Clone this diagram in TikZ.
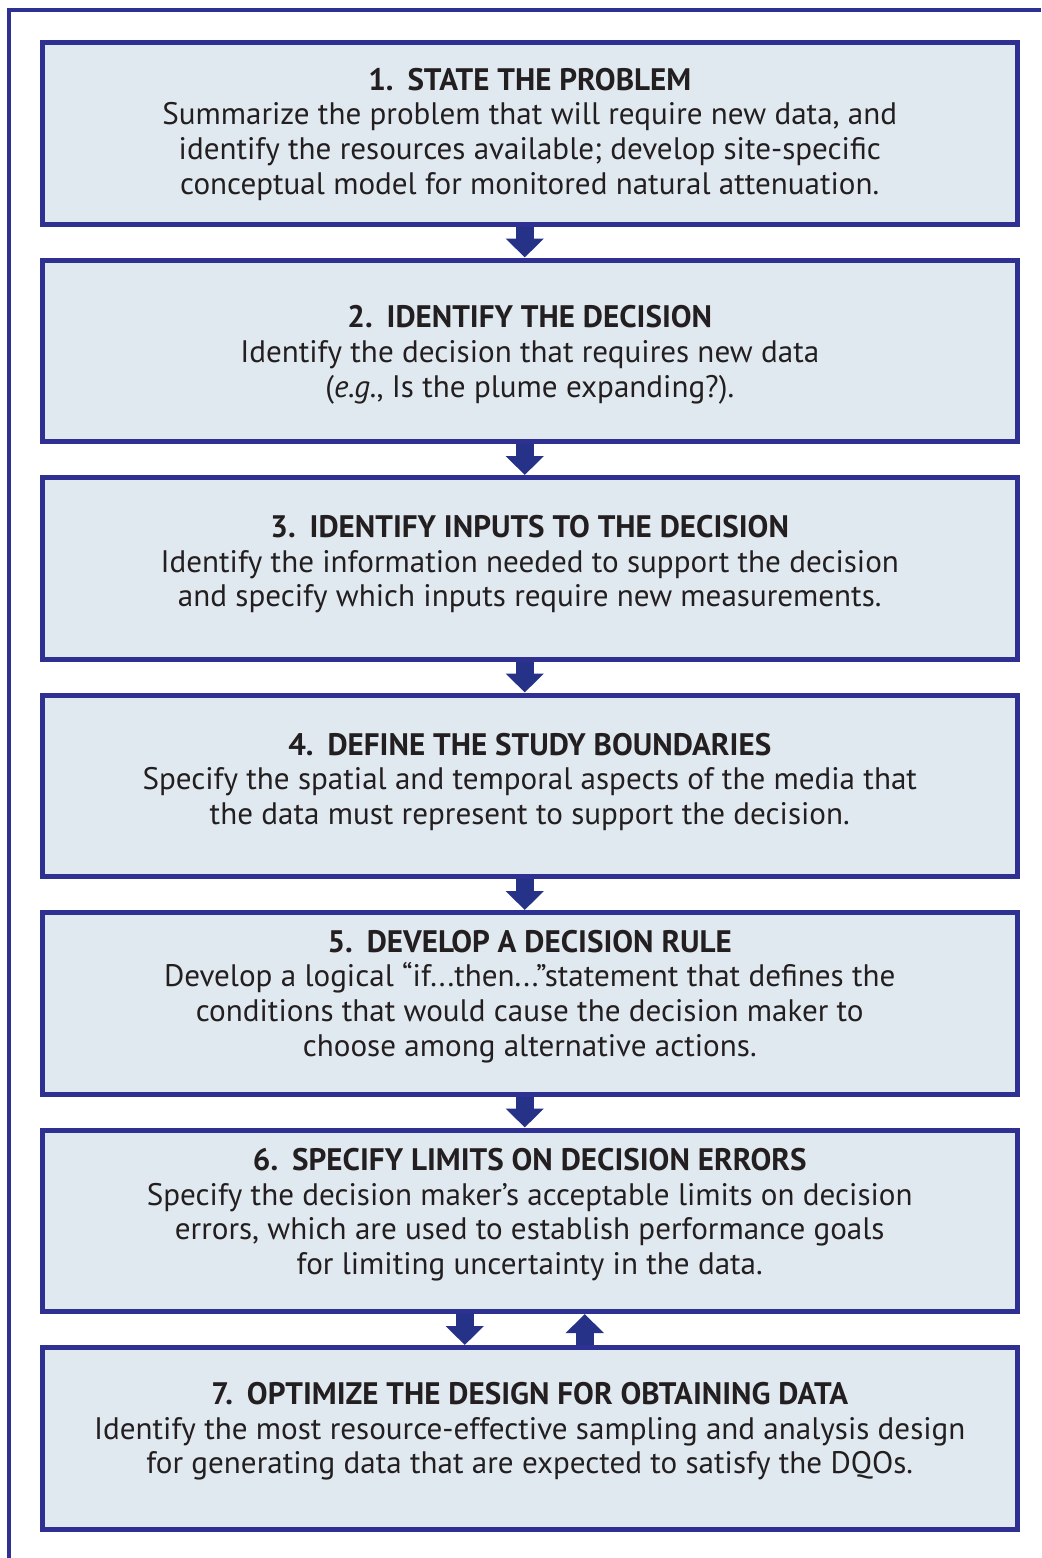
\documentclass[tikz,border=0pt]{standalone}
\usepackage{fontspec}
\setmainfont{PT Sans}
\usetikzlibrary{arrows.meta, positioning}
\definecolor{dqoblue}{HTML}{2E3192}
\definecolor{dqofill}{HTML}{E1E9F0}
\definecolor{dqoarrow}{HTML}{263288}
\definecolor{dqotext}{HTML}{231F20}

\begin{document}
\begin{tikzpicture}[
  x=0.5pt, y=0.5pt,
  node distance=15.5pt,
  stepbox/.style={draw=dqoblue, line width=2.5pt, fill=dqofill, minimum width=487.25pt, minimum height=90.75pt, inner sep=0pt},
  steptext/.style={align=center, text=dqotext, inner sep=0pt, font=\fontsize{15.55}{17.35}\selectfont},
  arrow/.style={draw=dqoarrow, line width=9pt, -{Triangle[width=18.5pt, length=9.5pt]}},
  frame/.style={draw=dqoblue, line width=2pt}
]
\useasboundingbox (0,0) rectangle (1041,-1558);

% Frame
\draw[frame] (1041,-10) -- (9,-10) -- (9,-1558);

% Nodes
\node[stepbox] (s1) at (529.75,-133.25) {};
\node[stepbox, below=of s1] (s2) {};
\node[stepbox, below=of s2] (s3) {};
\node[stepbox, below=of s3] (s4) {};
\node[stepbox, below=of s4] (s5) {};
\node[stepbox, below=of s5] (s6) {};
\node[stepbox, below=of s6] (s7) {};

\node[steptext] (t1) at ([yshift=-0.5pt]s1.center) {\textbf{1.\hspace{0.45em}STATE THE PROBLEM}\\
  Summarize the problem that will require new data, and\\
  identify the resources available; develop site-specific\\
  conceptual model for monitored natural attenuation.};
\node[steptext] (t2) at ([yshift=-2pt]s2.center) {\textbf{2.\hspace{0.45em}IDENTIFY THE DECISION}\\
  Identify the decision that requires new data\\
  (\textit{e.g.}, Is the plume expanding?).};
\node[steptext] (t3) at ([yshift=2pt]s3.center) {\textbf{3.\hspace{0.45em}IDENTIFY INPUTS TO THE DECISION}\\
  Identify the information needed to support the decision\\
  and specify which inputs require new measurements.};
\node[steptext] (t4) at ([yshift=2pt]s4.center) {\textbf{4.\hspace{0.45em}DEFINE THE STUDY BOUNDARIES}\\
  Specify the spatial and temporal aspects of the media that\\
  the data must represent to support the decision.};
\node[steptext] (t5) at ([yshift=3.5pt]s5.center) {\textbf{5.\hspace{0.45em}DEVELOP A DECISION RULE}\\
  Develop a logical “if...then...”statement that defines the\\
  conditions that would cause the decision maker to\\
  choose among alternative actions.};
\node[steptext] (t6) at ([yshift=3pt]s6.center) {\textbf{6.\hspace{0.45em}SPECIFY LIMITS ON DECISION ERRORS}\\
  Specify the decision maker’s acceptable limits on decision\\
  errors, which are used to establish performance goals\\
  for limiting uncertainty in the data.};
\node[steptext] (t7) at ([yshift=3.5pt]s7.center) {\textbf{7.\hspace{0.45em}OPTIMIZE THE DESIGN FOR OBTAINING DATA}\\
  Identify the most resource-effective sampling and analysis design\\
  for generating data that are expected to satisfy the DQOs.};

% Arrows
\foreach \a/\b in {s1/s2, s2/s3, s3/s4, s4/s5, s5/s6}
  \draw[arrow] ([xshift=-2.5pt]\a.south) -- ([xshift=-2.5pt]\b.north);
\draw[arrow] ([xshift=-32.5pt]s6.south) -- ([xshift=-32.5pt]s7.north);
\draw[arrow] ([xshift=27.5pt]s7.north) -- ([xshift=27.5pt]s6.south);

\end{tikzpicture}
\end{document}
